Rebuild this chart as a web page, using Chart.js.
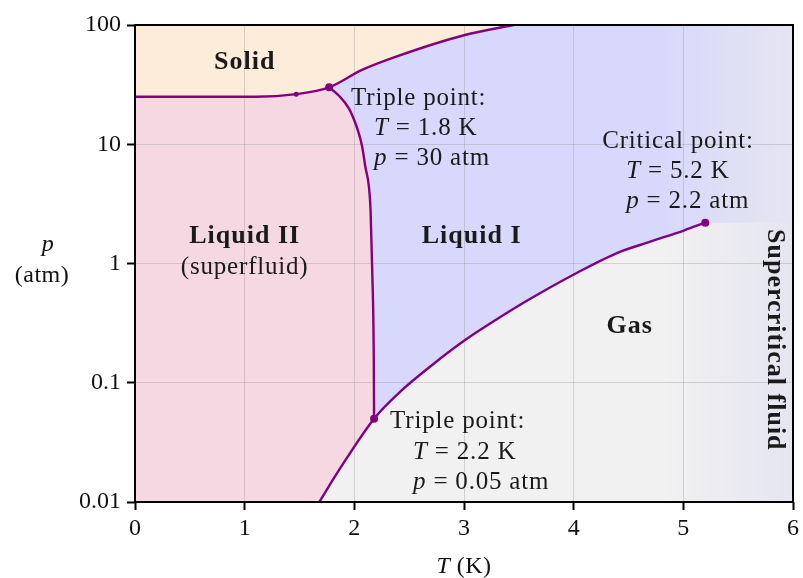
<!DOCTYPE html>
<html>
<head>
<meta charset="utf-8">
<script src="https://cdn.jsdelivr.net/npm/chart.js@4"></script>
<style>
  html, body { margin: 0; padding: 0; background: #fff; }
</style>
</head>
<body>
<canvas id="phaseChart" width="803" height="578"></canvas>
<script>
// melting curve (solid / liquid boundary), T in K, p in atm
const meltT = [0, 0.9, 1.1, 1.47, 1.77, 2.07, 2.375, 3.0, 3.45, 3.6];
const meltP = [25, 25, 25, 26.3, 30, 42, 54, 82, 100, 106];
// lambda line (liquid II / liquid I)
const lambdaT = [1.77, 1.86, 1.95, 2.01, 2.04, 2.072, 2.10, 2.133, 2.148, 2.163, 2.178, 2.18];
const lambdaP = [30, 25.5, 20.0, 15, 12.4, 9.5, 6.5, 4.4, 2.8, 0.88, 0.13, 0.05];
// vapour pressure curve up to the critical point
const vapT = [1.68, 1.86, 2.18, 2.405, 2.71, 3.01, 3.313, 3.585, 4.01, 4.40, 4.705, 5.01, 5.2];
const vapP = [0.01, 0.0185, 0.05, 0.082, 0.141, 0.228, 0.347, 0.494, 0.817, 1.23, 1.53, 1.9, 2.2];
// marked points
const markT = [1.47, 1.77, 2.18, 5.2];
const markP = [26.3, 30, 0.05, 2.2];
const markR = [2.5, 4, 4, 4];

const xTicks = [0, 1, 2, 3, 4, 5, 6];
const yTicks = [0.01, 0.1, 1, 10, 100];
const yTickLabels = ['0.01', '0.1', '1', '10', '100'];

const regionNames = ['Solid', 'Liquid II', 'Liquid I', 'Gas', 'Supercritical fluid'];

const SERIF = '"Liberation Serif", "DejaVu Serif", serif';
const PURPLE = '#800080';

const toXY = (ts, ps) => ts.map((t, i) => ({x: t, y: ps[i]}));

// follow a dataset's smoothed line from point i0 to i1 (either direction)
function tracePath(ctx, meta, i0, i1, move) {
    const pts = meta.data;
    const step = i1 >= i0 ? 1 : -1;
    if (move) ctx.moveTo(pts[i0].x, pts[i0].y);
    else ctx.lineTo(pts[i0].x, pts[i0].y);
    for (let i = i0 + step; step > 0 ? i <= i1 : i >= i1; i += step) {
        const prev = pts[i - step], cur = pts[i];
        const flip = step < 0;
        if (prev.cp2x === undefined) { ctx.lineTo(cur.x, cur.y); continue; }
        ctx.bezierCurveTo(
            flip ? prev.cp1x : prev.cp2x, flip ? prev.cp1y : prev.cp2y,
            flip ? cur.cp2x : cur.cp1x, flip ? cur.cp2y : cur.cp1y,
            cur.x, cur.y);
    }
}

// fills are painted before the grid so the grid shows through them
const fillPlugin = {
    id: 'phaseFills',
    beforeDraw(chart) {
        const {ctx, chartArea: a, scales} = chart;
        const px = t => scales.x.getPixelForValue(t);
        const py = p => scales.y.getPixelForValue(p);
        const melt = chart.getDatasetMeta(0);
        const lam = chart.getDatasetMeta(1);
        const vap = chart.getDatasetMeta(2);
        [melt, lam, vap].forEach(m => m.dataset.updateControlPoints(a, 'x'));

        ctx.save();
        ctx.beginPath();
        ctx.rect(a.left, a.top, a.right - a.left, a.bottom - a.top);
        ctx.clip();

        // liquid I everywhere first
        ctx.fillStyle = '#d8d8fc';
        ctx.fillRect(a.left, a.top, a.right - a.left, a.bottom - a.top);

        // solid
        ctx.beginPath();
        tracePath(ctx, melt, 0, meltT.length - 1, true);
        ctx.lineTo(px(meltT[meltT.length - 1]), a.top - 10);
        ctx.lineTo(a.left - 10, a.top - 10);
        ctx.closePath();
        ctx.fillStyle = '#fdecd9';
        ctx.fill();

        // liquid II
        const k = meltT.indexOf(1.77);
        const v = vapT.indexOf(2.18);
        ctx.beginPath();
        tracePath(ctx, melt, 0, k, true);
        tracePath(ctx, lam, 0, lambdaT.length - 1, false);
        tracePath(ctx, vap, v, 0, false);
        ctx.lineTo(a.left - 10, a.bottom + 10);
        ctx.lineTo(a.left - 10, py(meltP[0]));
        ctx.closePath();
        ctx.fillStyle = '#f5d8e2';
        ctx.fill();

        // gas
        ctx.beginPath();
        tracePath(ctx, vap, 0, vapT.length - 1, true);
        ctx.lineTo(a.right + 10, py(vapP[vapP.length - 1]));
        ctx.lineTo(a.right + 10, a.bottom + 10);
        ctx.lineTo(px(vapT[0]), a.bottom + 10);
        ctx.closePath();
        ctx.fillStyle = '#f1f1f1';
        ctx.fill();

        // supercritical fade
        const g = ctx.createLinearGradient(px(4.8), 0, px(6), 0);
        g.addColorStop(0, 'rgba(229,229,240,0)');
        g.addColorStop(1, 'rgba(229,229,240,1)');
        ctx.fillStyle = g;
        ctx.fillRect(px(4.8), a.top, px(6) - px(4.8), a.bottom - a.top);
        ctx.restore();
    }
};

function drawParts(ctx, parts, x, y, size, weight) {
    let cx = x;
    parts.forEach(([txt, it]) => {
        ctx.font = (it ? 'italic ' : '') + (weight || '') + ' ' + size + 'px ' + SERIF;
        ctx.fillText(txt, cx, y);
        cx += ctx.measureText(txt).width;
    });
    return cx - x;
}

function partsWidth(ctx, parts, size) {
    let w = 0;
    parts.forEach(([txt, it]) => {
        ctx.font = (it ? 'italic ' : '') + size + 'px ' + SERIF;
        w += ctx.measureText(txt).width;
    });
    return w;
}

const textPlugin = {
    id: 'phaseText',
    afterDraw(chart) {
        const {ctx, chartArea: a, scales} = chart;
        const px = t => scales.x.getPixelForValue(t);
        const py = p => scales.y.getPixelForValue(p);
        ctx.save();

        // frame
        ctx.strokeStyle = '#000';
        ctx.lineWidth = 2;
        ctx.strokeRect(a.left, a.top, a.right - a.left, a.bottom - a.top);

        ctx.fillStyle = '#1a1a1a';
        ctx.textBaseline = 'middle';
        ctx.textAlign = 'center';
        ctx.letterSpacing = '1px';
        ctx.font = 'bold 26px ' + SERIF;
        ctx.fillText(regionNames[0], px(1.0), py(49));
        ctx.fillText(regionNames[1], px(1.0), py(1.7));
        ctx.fillText(regionNames[2], px(3.07), py(1.7));
        ctx.fillText(regionNames[3], px(4.51), py(0.30));
        ctx.font = '25px ' + SERIF;
        ctx.letterSpacing = '0.8px';
        ctx.fillText('(superfluid)', px(1.0), py(0.93));

        ctx.save();
        ctx.translate(px(5.83), py(0.229));
        ctx.rotate(Math.PI / 2);
        ctx.letterSpacing = '1px';
        ctx.font = 'bold 26px ' + SERIF;
        ctx.fillText(regionNames[4], 0, 0);
        ctx.restore();

        // annotations
        ctx.textAlign = 'left';
        ctx.textBaseline = 'alphabetic';
        const notes = [
            {t: 1.77, p: 30, rows: [
                [22, 18, [['Triple point:', 0]]],
                [45, 48, [['T', 1], [' = 1.8 K', 0]]],
                [45, 78, [['p', 1], [' = 30 atm', 0]]]]},
            {t: 5.2, p: 2.2, rows: [
                [-103, -75, [['Critical point:', 0]]],
                [-79, -45, [['T', 1], [' = 5.2 K', 0]]],
                [-79, -15, [['p', 1], [' = 2.2 atm', 0]]]]},
            {t: 2.18, p: 0.05, rows: [
                [16, 9, [['Triple point:', 0]]],
                [39, 40, [['T', 1], [' = 2.2 K', 0]]],
                [39, 70, [['p', 1], [' = 0.05 atm', 0]]]]}
        ];
        notes.forEach(n => {
            const x0 = px(n.t), y0 = py(n.p);
            n.rows.forEach(([dx, dy, parts]) => drawParts(ctx, parts, x0 + dx, y0 + dy, 25));
        });

        // axis titles
        ctx.letterSpacing = '0.5px';
        ctx.fillStyle = '#111';
        const xt = [['T', 1], [' (K)', 0]];
        const w = partsWidth(ctx, xt, 24);
        drawParts(ctx, xt, (a.left + a.right) / 2 - w / 2, 573, 24);
        ctx.textAlign = 'center';
        ctx.font = 'italic 24px ' + SERIF;
        ctx.fillText('p', 48, 251);
        ctx.font = '24px ' + SERIF;
        ctx.fillText('(atm)', 42, 282);
        ctx.restore();
    }
};

const lineStyle = {showLine: true, borderColor: PURPLE, borderWidth: 2.4, pointRadius: 0,
                   cubicInterpolationMode: 'monotone'};

const ctx = document.getElementById('phaseChart').getContext('2d');
new Chart(ctx, {
    type: 'scatter',
    data: {
        datasets: [
            {data: toXY(meltT, meltP), ...lineStyle},
            {data: toXY(lambdaT, lambdaP), ...lineStyle},
            {data: toXY(vapT, vapP), ...lineStyle},
            {data: toXY(markT, markP), showLine: false, pointRadius: markR,
             backgroundColor: PURPLE, borderColor: PURPLE, borderWidth: 0}
        ]
    },
    options: {
        responsive: false,
        animation: false,
        events: [],
        layout: {padding: {top: 25, right: 7, left: 0, bottom: 0}},
        plugins: {legend: {display: false}, tooltip: {enabled: false}},
        scales: {
            x: {
                type: 'linear', min: 0, max: 6,
                afterBuildTicks: s => { s.ticks = xTicks.map(v => ({value: v})); },
                afterFit: s => { s.height = 76; },
                border: {display: false},
                grid: {color: 'rgba(150,150,150,0.35)', lineWidth: 1, tickColor: '#000',
                       tickLength: 8, tickWidth: 2},
                ticks: {color: '#111', padding: 4, font: {family: SERIF, size: 24},
                        maxRotation: 0, autoSkip: false}
            },
            y: {
                type: 'logarithmic', min: 0.01, max: 100,
                afterBuildTicks: s => { s.ticks = yTicks.map(v => ({value: v})); },
                afterFit: s => { s.width = 135; },
                border: {display: false},
                grid: {color: 'rgba(150,150,150,0.35)', lineWidth: 1, tickColor: '#000',
                       tickLength: 8, tickWidth: 2},
                ticks: {color: '#111', padding: 6, font: {family: SERIF, size: 24},
                        autoSkip: false, callback: (v, i) => yTickLabels[i]}
            }
        }
    },
    plugins: [fillPlugin, textPlugin]
});
</script>
</body>
</html>
